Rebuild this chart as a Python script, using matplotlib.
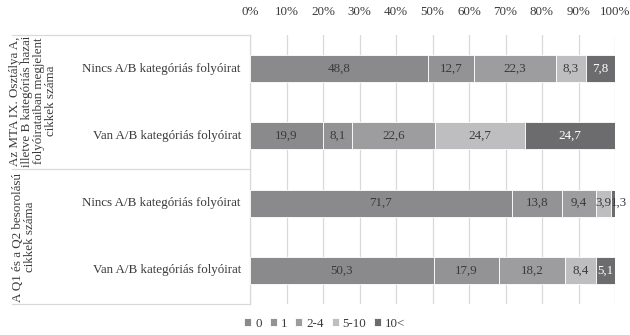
import matplotlib.pyplot as plt
from matplotlib.lines import Line2D

plt.rcParams['font.family'] = ['Liberation Serif', 'DejaVu Serif']
plt.rcParams['font.size'] = 9.4

rows = ["Nincs A/B kategóriás folyóirat", "Van A/B kategóriás folyóirat",
        "Nincs A/B kategóriás folyóirat", "Van A/B kategóriás folyóirat"]
groups = ["Az MTA IX. Osztálya A,\nilletve B kategóriás hazai\nfolyóirataiban megjelent\ncikkek száma",
          "A Q1 és a Q2 besorolású\ncikkek száma"]
series = ["0", "1", "2-4", "5-10", "10<"]
values = [
    [48.8, 12.7, 22.3, 8.3, 7.8],
    [19.9, 8.1, 22.6, 24.7, 24.7],
    [71.7, 13.8, 9.4, 3.9, 1.3],
    [50.3, 17.9, 18.2, 8.4, 5.1],
]
colors = ["#8a8a8c", "#939395", "#9d9d9f", "#bebec0", "#6c6c6e"]
text_colors = ["#3a3a3a", "#3a3a3a", "#3a3a3a", "#3a3a3a", "white"]

W, H = 630, 335
fig = plt.figure(figsize=(W / 100, H / 100), dpi=100)
ax = fig.add_axes([250 / W, 1 - 304 / H, 365 / W, 269 / H])

for r, vals in enumerate(values):
    left = 0
    for s, v in enumerate(vals):
        ax.barh(r, v, left=left, height=0.4, color=colors[s], edgecolor="white",
                linewidth=0.6, label=series[s] if r == 0 else None, zorder=3)
        label = f"{v:.1f}".replace(".", ",")
        if v < 2:
            # too narrow for the label: let it run past the bar end
            ax.text(left + 0.1, r, label, ha="left", va="center",
                    color="#3a3a3a", zorder=4)
        else:
            ax.text(left + v / 2, r, label, ha="center", va="center",
                    color=text_colors[s], zorder=4)
        left += v

ax.set_xlim(0, 100)
ax.set_ylim(3.5, -0.5)
ax.set_xticks(range(0, 101, 10))
ax.set_xticklabels([f"{t}%" for t in range(0, 101, 10)], color="#3a3a3a")
ax.xaxis.tick_top()
ax.tick_params(axis="x", length=0, pad=12)
ax.set_yticks([])
ax.grid(axis="x", color="#d9d9d9", linewidth=0.9, zorder=0)
for side in ["top", "right", "bottom"]:
    ax.spines[side].set_visible(False)
ax.spines["left"].set_color("#d9d9d9")
ax.spines["left"].set_linewidth(0.9)

# row labels
for r, name in enumerate(rows):
    ax.text(-0.025, 1 - (r + 0.5) / len(rows), name, transform=ax.transAxes,
            ha="right", va="center", color="#3a3a3a")

# group labels and separators
fig.text(33 / W, 1 - 101 / H, groups[0], rotation=90, ha="center", va="center",
         multialignment="center", color="#3a3a3a", linespacing=1.0)
fig.text(24 / W, 1 - 237 / H, groups[1], rotation=90, ha="center", va="center",
         multialignment="center", color="#3a3a3a", linespacing=1.0)
for yy in [35, 169.5, 304]:
    fig.add_artist(Line2D([12 / W, 250 / W], [1 - yy / H, 1 - yy / H],
                          color="#d9d9d9", linewidth=0.9))

fig.legend(loc="center", bbox_to_anchor=(325 / W, 1 - 324 / H), ncol=5, frameon=False,
           handlelength=0.55, handleheight=0.55, handletextpad=0.3, columnspacing=0.6,
           labelcolor="#3a3a3a")

fig.savefig("out.png", dpi=100)
